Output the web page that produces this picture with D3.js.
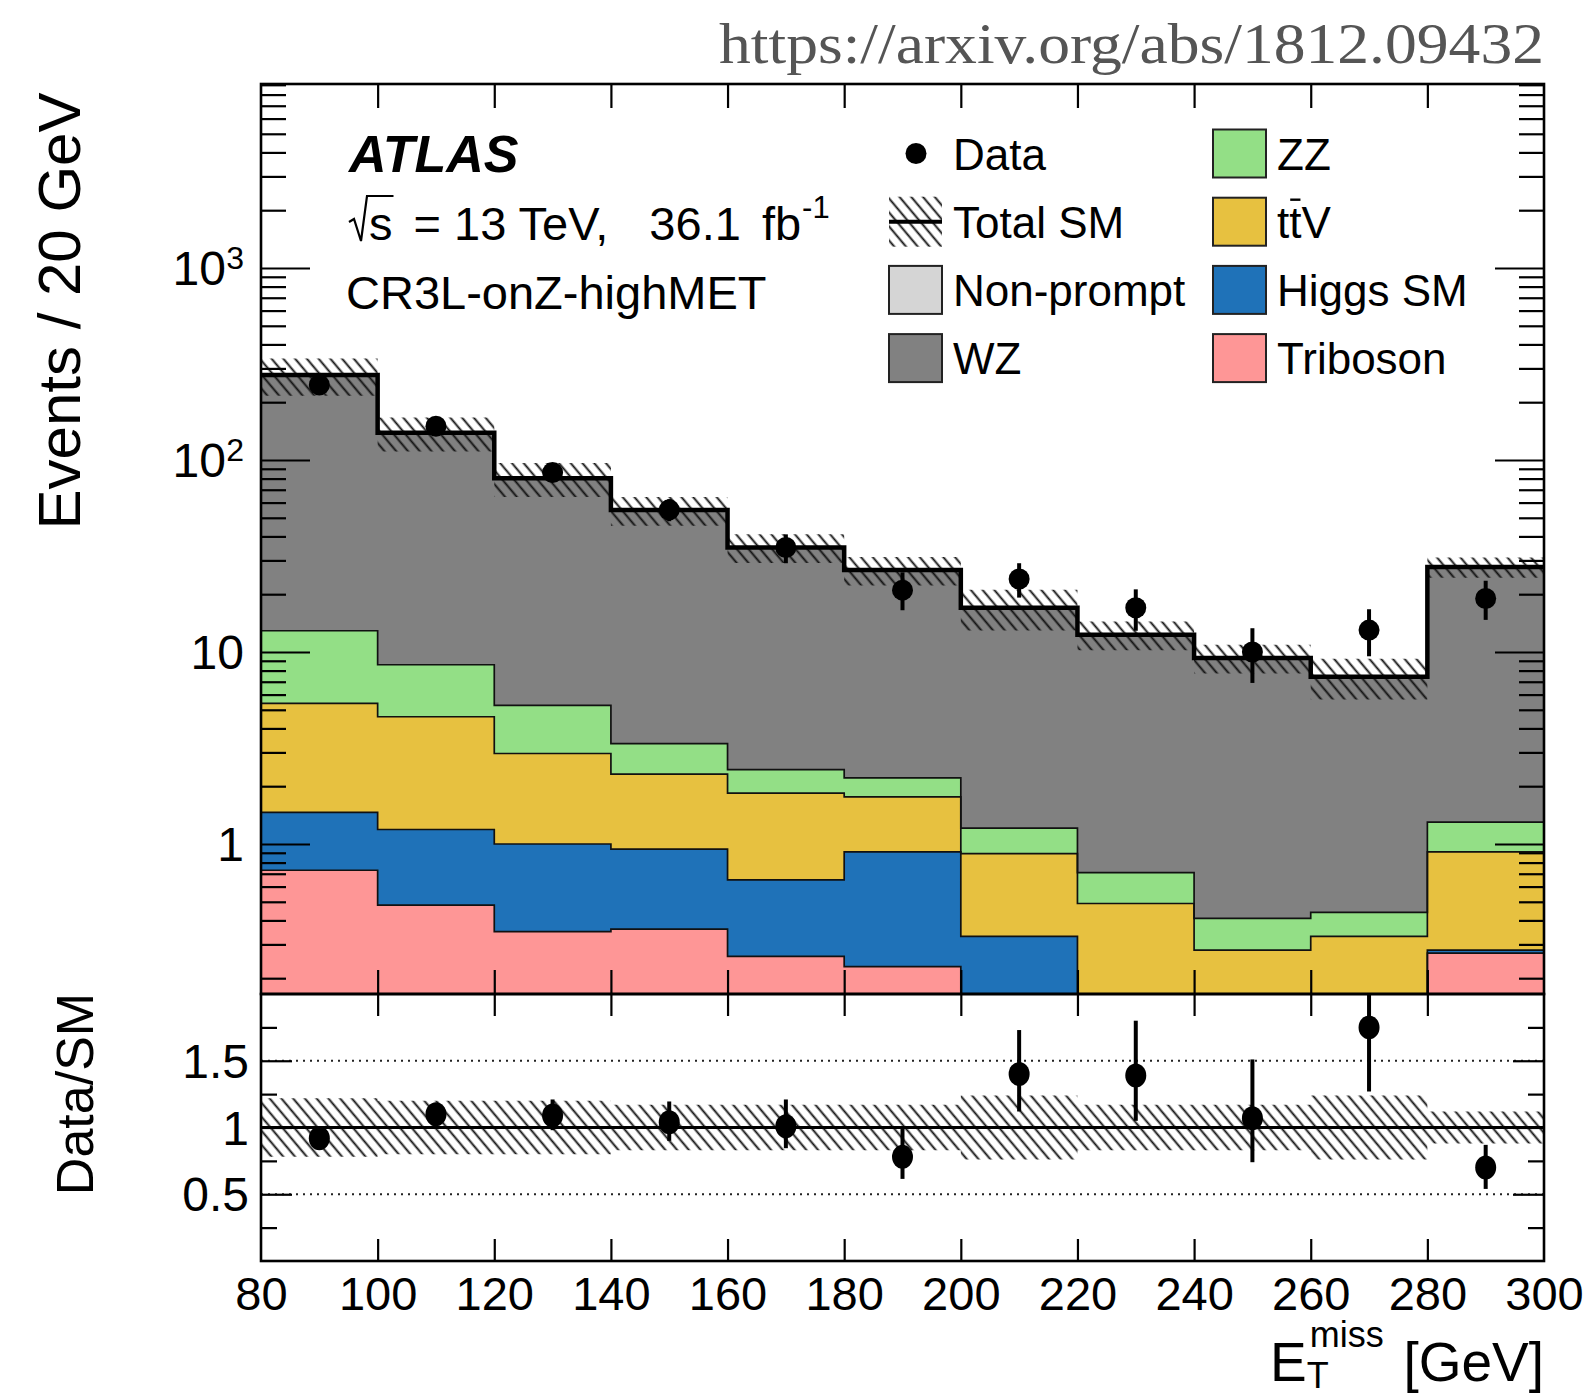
<!DOCTYPE html>
<html>
<head>
<meta charset="utf-8">
<script src="https://cdn.jsdelivr.net/npm/d3@7"></script>
<style>
  body { margin: 0; background: #fff; }
  svg { display: block; }
  text { font-family: "Liberation Sans", Arial, Helvetica, sans-serif; fill: #000; }
  text.source { font-family: "Liberation Serif", "DejaVu Serif", serif; fill: #555; }
</style>
</head>
<body>
<svg id="chart" width="1588" height="1395"></svg>
<script>
// ---- data: E_T^miss distribution in CR3L-onZ-highMET, 20 GeV bins ----
const binEdges   = [80, 100, 120, 140, 160, 180, 200, 220, 240, 260, 280, 300];
const binCenters = [90, 110, 130, 150, 170, 190, 210, 230, 250, 270, 290];

// background predictions per bin (events)
const triboson  = [0.73, 0.48, 0.35, 0.36, 0.26, 0.23, 0.06, 0.03, 0.02, 0.02, 0.27];
const higgsSM   = [0.73, 0.71, 0.65, 0.58, 0.39, 0.68, 0.27, 0.05, 0.04, 0.04, 0.01];
const ttV       = [3.94, 3.41, 1.96, 1.37, 1.19, 0.85, 0.56, 0.41, 0.22, 0.27, 0.63];
const zz        = [7.50, 3.98, 2.31, 1.02, 0.60, 0.45, 0.32, 0.22, 0.13, 0.11, 0.39];
const wz        = [264, 130, 75, 51.5, 32.6, 24.5, 15.8, 11.6, 8.9, 7.0, 26.4];
const nonPrompt = [0, 0, 0, 0, 0, 0, 0, 0, 0, 0, 0];

// relative uncertainty of the total SM prediction
const totalSMRelUnc = [0.22, 0.20, 0.20, 0.17, 0.17, 0.17, 0.24, 0.17, 0.17, 0.24, 0.12];

// observed data
const dataCounts  = [246, 150, 86, 55, 35, 21, 24, 17, 10, 13, 19];
const dataErrUp   = [16, 12, 9, 7.5, 6, 5, 5, 4.2, 3.3, 3.7, 4.5];
const dataErrDown = [15, 12, 9, 7, 6, 4.5, 4.8, 4.1, 3.1, 3.5, 4.3];

// data / SM ratio
const ratioValues  = [0.92, 1.10, 1.09, 1.04, 1.01, 0.78, 1.40, 1.39, 1.07, 1.75, 0.70];
const ratioErrUp   = [0.05, 0.05, 0.12, 0.155, 0.20, 0.22, 0.33, 0.41, 0.44, 0.50, 0.17];
const ratioErrDown = [0.05, 0.05, 0.11, 0.14, 0.165, 0.165, 0.28, 0.34, 0.33, 0.48, 0.16];

// axis tick labels
const xTickLabels     = ["80", "100", "120", "140", "160", "180", "200", "220", "240", "260", "280", "300"];
const yMainTicks      = [1, 10, 100, 1000];
const yMainExponents  = ["", "", "2", "3"];
const ratioTicks      = [0.5, 1, 1.5];
const ratioTickLabels = ["0.5", "1", "1.5"];

// ---- layout ----
const L = 261, R = 1544, T = 84, MB = 994, RB = 1261;
const yMin = Math.pow(10, -0.78125), yMax = Math.pow(10, 3.95833);

const colors = {
  "Triboson": "#fe9696",
  "Higgs SM": "#1f72b8",
  "ttV": "#e7c140",
  "ZZ": "#93df86",
  "WZ": "#818181",
  "Non-prompt": "#d5d5d5"
};

const svg = d3.select("#chart");
const x = d3.scaleLinear().domain([80, 300]).range([L, R]);
const y = d3.scaleLog().domain([yMin, yMax]).range([MB, T]);
const yr = d3.scaleLinear().domain([0, 2]).range([RB, MB]);

const defs = svg.append("defs");
function hatchPattern(id) {
  const p = defs.append("pattern").attr("id", id)
    .attr("patternUnits", "userSpaceOnUse")
    .attr("width", 9).attr("height", 9)
    .attr("patternTransform", "rotate(-40)");
  p.append("line").attr("x1", 4.5).attr("y1", 0).attr("x2", 4.5).attr("y2", 9)
    .attr("stroke", "#111").attr("stroke-width", 1.9);
}
hatchPattern("hatch");
defs.append("clipPath").attr("id", "clipMain")
  .append("rect").attr("x", L).attr("y", T).attr("width", R - L).attr("height", MB - T);
defs.append("clipPath").attr("id", "clipRatio")
  .append("rect").attr("x", L).attr("y", MB).attr("width", R - L).attr("height", RB - MB);

// ---- stacked histogram ----
const keys = ["Triboson", "Higgs SM", "ttV", "ZZ", "WZ", "Non-prompt"];
const series = {"Triboson": triboson, "Higgs SM": higgsSM, "ttV": ttV, "ZZ": zz, "WZ": wz, "Non-prompt": nonPrompt};
const table = binCenters.map((c, i) => {
  const row = {i};
  keys.forEach(k => row[k] = series[k][i]);
  return row;
});
const stacked = d3.stack().keys(keys)(table);
const clampV = v => Math.max(v, yMin * 0.5);

// extend a per-bin array to step points (last edge repeats last bin)
function stepPoints(arr) {
  const pts = arr.map((d, i) => ({edge: binEdges[i], d}));
  pts.push({edge: binEdges[binEdges.length - 1], d: arr[arr.length - 1]});
  return pts;
}

const gMain = svg.append("g").attr("clip-path", "url(#clipMain)");
const area = d3.area().curve(d3.curveStepAfter)
  .x(p => x(p.edge))
  .y0(p => y(clampV(p.d[0])))
  .y1(p => y(clampV(p.d[1])));
const topLine = d3.line().curve(d3.curveStepAfter)
  .x(p => x(p.edge))
  .y(p => y(clampV(p.d[1])));

stacked.forEach(s => {
  gMain.append("path").attr("d", area(stepPoints(Array.from(s))))
    .attr("fill", colors[s.key]).attr("stroke", "none");
});
stacked.forEach(s => {
  if (s.key === "Non-prompt") return;
  gMain.append("path").attr("d", topLine(stepPoints(Array.from(s))))
    .attr("fill", "none").attr("stroke", "#111").attr("stroke-width", 1.7);
});

// total SM with uncertainty band
const totalSM = table.map(r => keys.reduce((a, k) => a + r[k], 0));
const bandArea = d3.area().curve(d3.curveStepAfter)
  .x(p => x(p.edge))
  .y0(p => y(clampV(p.d.lo)))
  .y1(p => y(clampV(p.d.hi)));
const bandData = totalSM.map((t, i) => ({lo: t * (1 - totalSMRelUnc[i]), hi: t * (1 + totalSMRelUnc[i])}));
gMain.append("path").attr("d", bandArea(stepPoints(bandData))).attr("fill", "url(#hatch)");
const totalLine = d3.line().curve(d3.curveStepAfter)
  .x(p => x(p.edge)).y(p => y(clampV(p.d)));
gMain.append("path").attr("d", totalLine(stepPoints(totalSM)))
  .attr("fill", "none").attr("stroke", "#000").attr("stroke-width", 4.5);

// data points
binCenters.forEach((c, i) => {
  gMain.append("line")
    .attr("x1", x(c)).attr("x2", x(c))
    .attr("y1", y(dataCounts[i] + dataErrUp[i])).attr("y2", y(dataCounts[i] - dataErrDown[i]))
    .attr("stroke", "#000").attr("stroke-width", 4);
  gMain.append("circle").attr("cx", x(c)).attr("cy", y(dataCounts[i])).attr("r", 10.5).attr("fill", "#000");
});

// ---- ratio panel ----
const gRatio = svg.append("g").attr("clip-path", "url(#clipRatio)");
const ratioBand = d3.area().curve(d3.curveStepAfter)
  .x(p => x(p.edge)).y0(p => yr(1 - p.d)).y1(p => yr(1 + p.d));
gRatio.append("path").attr("d", ratioBand(stepPoints(totalSMRelUnc))).attr("fill", "url(#hatch)");
[0.5, 1.5].forEach(v => {
  gRatio.append("line").attr("x1", L).attr("x2", R).attr("y1", yr(v)).attr("y2", yr(v))
    .attr("stroke", "#222").attr("stroke-width", 1.8).attr("stroke-dasharray", "2,5");
});
gRatio.append("line").attr("x1", L).attr("x2", R).attr("y1", yr(1)).attr("y2", yr(1))
  .attr("stroke", "#000").attr("stroke-width", 3);
binCenters.forEach((c, i) => {
  gRatio.append("line")
    .attr("x1", x(c)).attr("x2", x(c))
    .attr("y1", yr(ratioValues[i] + ratioErrUp[i])).attr("y2", yr(ratioValues[i] - ratioErrDown[i]))
    .attr("stroke", "#000").attr("stroke-width", 4);
  gRatio.append("ellipse").attr("cx", x(c)).attr("cy", yr(ratioValues[i]))
    .attr("rx", 10.5).attr("ry", 12).attr("fill", "#000");
});

// ---- axes (ticks inside the frame on all sides) ----
function tickAxis(axis, tx, ty, values, size) {
  const g = svg.append("g").attr("transform", `translate(${tx},${ty})`)
    .call(axis.tickValues(values).tickSize(size).tickFormat(""));
  g.select(".domain").remove();
  g.selectAll(".tick line").attr("stroke", "#000").attr("stroke-width", 2.2);
  return g;
}
const xTickVals = binEdges.slice(1, -1);
tickAxis(d3.axisTop(x), 0, MB, xTickVals, 24);
tickAxis(d3.axisBottom(x), 0, T, xTickVals, 24);
tickAxis(d3.axisBottom(x), 0, MB, xTickVals, 22);
tickAxis(d3.axisTop(x), 0, RB, xTickVals, 22);

const yMinor = [];
[0.1, 1, 10, 100, 1000].forEach(dec => {
  for (let k = 2; k <= 9; k++) {
    const v = dec * k;
    if (v > yMin && v < yMax) yMinor.push(v);
  }
});
tickAxis(d3.axisRight(y), L, 0, yMainTicks, 49);
tickAxis(d3.axisRight(y), L, 0, yMinor, 25);
tickAxis(d3.axisLeft(y), R, 0, yMainTicks, 49);
tickAxis(d3.axisLeft(y), R, 0, yMinor, 25);

const ratioMinor = [0.25, 0.75, 1.25, 1.75];
tickAxis(d3.axisRight(yr), L, 0, ratioTicks, 31);
tickAxis(d3.axisRight(yr), L, 0, ratioMinor, 16);
tickAxis(d3.axisLeft(yr), R, 0, ratioTicks, 31);
tickAxis(d3.axisLeft(yr), R, 0, ratioMinor, 16);

// x tick labels
const xLab = svg.append("g").attr("transform", `translate(0,${RB})`)
  .call(d3.axisBottom(x).tickValues(binEdges).tickSize(0).tickPadding(16)
    .tickFormat((d, i) => xTickLabels[i]));
xLab.select(".domain").remove();
xLab.selectAll("text").attr("font-size", 47).attr("fill", "#000");

// main y tick labels (powers of ten)
yMainTicks.forEach((v, i) => {
  const yy = y(v);
  if (yMainExponents[i]) {
    svg.append("text").attr("x", 226).attr("y", yy + 17).attr("text-anchor", "end")
      .attr("font-size", 48).text("10");
    svg.append("text").attr("x", 244).attr("y", yy + 1).attr("text-anchor", "end")
      .attr("font-size", 32).text(yMainExponents[i]);
  } else {
    svg.append("text").attr("x", 244).attr("y", yy + 17).attr("text-anchor", "end")
      .attr("font-size", 48).text(String(v));
  }
});
// ratio y tick labels
ratioTicks.forEach((v, i) => {
  svg.append("text").attr("x", 249).attr("y", yr(v) + 17).attr("text-anchor", "end")
    .attr("font-size", 48).text(ratioTickLabels[i]);
});

// frames
svg.append("rect").attr("x", L).attr("y", T).attr("width", R - L).attr("height", MB - T)
  .attr("fill", "none").attr("stroke", "#000").attr("stroke-width", 2.6);
svg.append("rect").attr("x", L).attr("y", MB).attr("width", R - L).attr("height", RB - MB)
  .attr("fill", "none").attr("stroke", "#000").attr("stroke-width", 2.6);

// axis titles
svg.append("text").attr("transform", "translate(80,311) rotate(-90)")
  .attr("text-anchor", "middle").attr("font-size", 60).text("Events / 20 GeV");
svg.append("text").attr("transform", "translate(93,1094) rotate(-90)")
  .attr("text-anchor", "middle").attr("font-size", 52).text("Data/SM");
const xTitle = svg.append("text").attr("x", 1270).attr("y", 1381).attr("font-size", 55);
xTitle.append("tspan").text("E");
xTitle.append("tspan").attr("font-size", 36).attr("dy", 7).text("T");
xTitle.append("tspan").attr("font-size", 36).attr("dx", -19).attr("dy", -41).text("miss");
xTitle.append("tspan").attr("x", 1544).attr("dy", 34).attr("text-anchor", "end").text("[GeV]");

// ---- labels inside the plot ----
svg.append("text").attr("x", 349).attr("y", 172).attr("font-size", 52)
  .attr("font-weight", "bold").attr("font-style", "italic").text("ATLAS");

const energy = svg.append("text").attr("x", 369).attr("y", 240).attr("font-size", 47);
energy.append("tspan").text("s");
energy.append("tspan").attr("dx", 8).text(" = 13 TeV,");
energy.append("tspan").attr("dx", 28).text(" 36.1");
energy.append("tspan").attr("dx", 8).text(" fb");
energy.append("tspan").attr("font-size", 31).attr("dx", 1).attr("dy", -22).text("-1");
const sBox = energy.node().getExtentOfChar(0);
svg.append("path")
  .attr("d", `M349,222 L354,219 L361,241 L367,196 L${sBox.x + sBox.width + 1},196`)
  .attr("fill", "none").attr("stroke", "#000").attr("stroke-width", 2.2);

svg.append("text").attr("x", 346).attr("y", 309).attr("font-size", 47).text("CR3L-onZ-highMET");

// ---- legend ----
const legendCols = [889, 1213];
const rowCenter = r => 153.5 + r * 68.2;
const legendEntries = [
  {label: "Data", kind: "data", col: 0, row: 0},
  {label: "Total SM", kind: "band", col: 0, row: 1},
  {label: "Non-prompt", kind: "box", col: 0, row: 2},
  {label: "WZ", kind: "box", col: 0, row: 3},
  {label: "ZZ", kind: "box", col: 1, row: 0},
  {label: "ttV", kind: "box", col: 1, row: 1},
  {label: "Higgs SM", kind: "box", col: 1, row: 2},
  {label: "Triboson", kind: "box", col: 1, row: 3}
];
legendEntries.forEach(e => {
  const bx = legendCols[e.col], cy = rowCenter(e.row);
  if (e.kind === "data") {
    svg.append("circle").attr("cx", bx + 27).attr("cy", cy).attr("r", 10.5).attr("fill", "#000");
  } else if (e.kind === "band") {
    svg.append("rect").attr("x", bx).attr("y", cy - 25).attr("width", 53).attr("height", 50)
      .attr("fill", "url(#hatch)");
    svg.append("line").attr("x1", bx).attr("x2", bx + 53).attr("y1", cy).attr("y2", cy)
      .attr("stroke", "#000").attr("stroke-width", 4);
  } else {
    svg.append("rect").attr("x", bx).attr("y", cy - 24).attr("width", 53).attr("height", 48)
      .attr("fill", colors[e.label]).attr("stroke", "#222").attr("stroke-width", 2);
  }
  const t = svg.append("text").attr("x", bx + 64).attr("y", cy + 16).attr("font-size", 44).text(e.label);
  if (e.label === "ttV") {
    const b = t.node().getExtentOfChar(1);
    svg.append("line").attr("x1", b.x + 1).attr("x2", b.x + b.width - 1)
      .attr("y1", cy - 22).attr("y2", cy - 22).attr("stroke", "#000").attr("stroke-width", 2.4);
  }
});

// source reference
svg.append("text").attr("class", "source").attr("x", 719).attr("y", 63)
  .attr("font-size", 58)
  .attr("textLength", 825).attr("lengthAdjust", "spacingAndGlyphs")
  .text("https://arxiv.org/abs/1812.09432");
</script>
</body>
</html>
